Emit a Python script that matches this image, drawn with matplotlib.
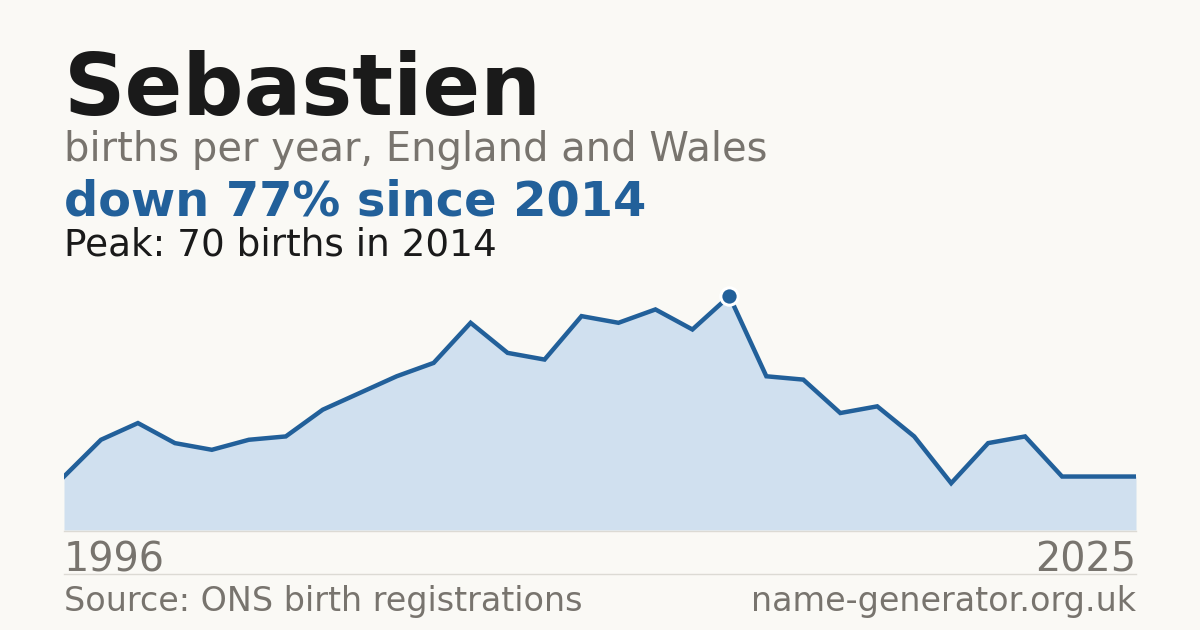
import matplotlib
matplotlib.use("Agg")
import matplotlib.pyplot as plt
from matplotlib.lines import Line2D

# births per year for the name, 1996-2025
years = list(range(1996, 2026))
births = [16, 27, 32, 26, 24, 27, 28, 36, 41, 46,
          50, 62, 53, 51, 64, 62, 66, 60, 70, 46,
          45, 35, 37, 28, 14, 26, 28, 16, 16, 16]

name = "Sebastien"
subtitle = "births per year, England and Wales"
headline = "down 77% since 2014"
peak_note = "Peak: 70 births in 2014"
source = "Source: ONS birth registrations"
site = "name-generator.org.uk"

bg = "#faf9f5"
blue = "#22609a"
fill = "#d0e0ef"
grey = "#78746e"

W, H = 1200, 630
fig = plt.figure(figsize=(12, 6.3), dpi=100, facecolor=bg)

def fx(px):
    return px / W

def fy(py):
    return 1 - py / H

# plot area: x 64..1136, baseline at y=530
ax = fig.add_axes([fx(64), fy(530), fx(1136) - fx(64), fy(270) - fy(530)])
ax.set_facecolor(bg)
ax.fill_between(years, births, 0, color=fill, linewidth=0)
ax.plot(years, births, color=blue, linewidth=3.2, solid_joinstyle="miter")
peak_i = births.index(max(births))
ax.plot(years[peak_i], births[peak_i], "o", color=blue, markersize=12.5,
        markeredgecolor="white", markeredgewidth=2.2, zorder=5)
ax.set_xlim(years[0], years[-1])
ax.set_ylim(0, 77.8)
ax.axis("off")

# titles
fig.text(fx(64), fy(115), name, fontsize=61.6, fontweight="bold", color="#1a1a1a")
fig.text(fx(64), fy(161), subtitle, fontsize=28.8, color=grey)
fig.text(fx(64), fy(216), headline, fontsize=34.5, fontweight="bold", color=blue)
fig.text(fx(64), fy(255), peak_note, fontsize=26.9, color="#1a1a1a")

# baseline and separator
fig.add_artist(Line2D([fx(64), fx(1136)], [fy(530.5), fy(530.5)], color="#dcdad4", linewidth=1))
fig.add_artist(Line2D([fx(64), fx(1136)], [fy(574), fy(574)], color="#dcdad4", linewidth=1))

# axis end labels
fig.text(fx(64), fy(571), str(years[0]), fontsize=28.6, color=grey)
fig.text(fx(1136), fy(571), str(years[-1]), fontsize=28.6, color=grey, ha="right")

# footer
fig.text(fx(64), fy(611), source, fontsize=24, color=grey)
fig.text(fx(1136), fy(611), site, fontsize=24, color=grey, ha="right")

fig.savefig("out.png", dpi=100, facecolor=bg)
